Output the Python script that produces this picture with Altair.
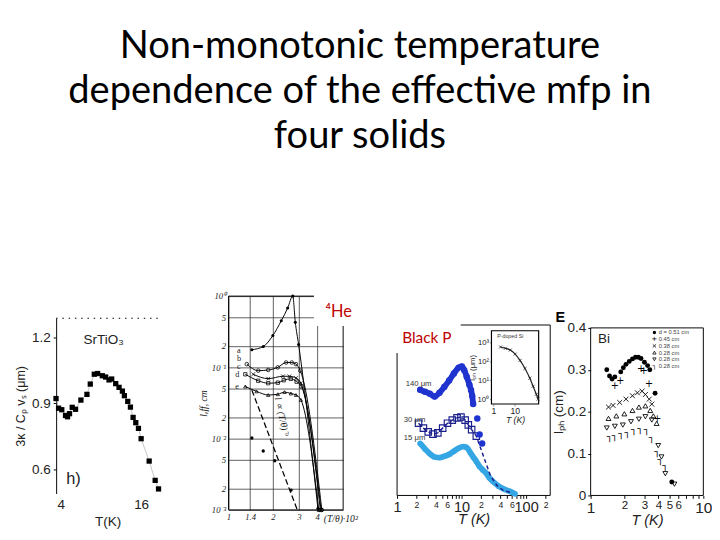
import altair as alt
import pandas as pd

# ---------------- title ----------------
TITLE = ["Non-monotonic temperature", "dependence of the effective mfp in", "four solids"]

# ---------------- panel 1 : SrTiO3 ----------------
sto_T = [3.28, 3.66, 4.14, 4.7, 5.0, 5.3, 5.7, 6.2, 7.0, 7.9, 8.4, 9.0, 9.5, 10.2, 10.7,
         11.2, 11.6, 12.2, 12.7, 13.2, 13.5, 14.0, 14.4, 14.8, 15.2, 15.6, 16.0, 17.2, 18.1, 18.6]
sto_L = [0.922, 0.878, 0.871, 0.845, 0.839, 0.853, 0.882, 0.873, 0.915, 0.941, 0.988, 1.033,
         1.036, 1.026, 1.020, 1.007, 1.011, 0.990, 0.973, 0.956, 0.935, 0.909, 0.883, 0.836,
         0.812, 0.786, 0.739, 0.637, 0.549, 0.510]
sto_xticks = [4, 8, 12, 16]
sto_yticks = [0.6, 0.9, 1.2]

# ---------------- panel 2 : 4He ----------------
he_a_x = [1.44, 1.72, 2.0, 2.28, 2.52, 2.73, 2.84, 2.99, 4.04]
he_a_y = [0.177, 0.196, 0.28, 0.45, 0.68, 1.0, 0.43, 0.21, 0.00105]
he_b_x = [1.33, 1.59, 1.86, 2.16, 2.46, 2.69, 2.87, 3.07, 4.3]
he_b_y = [0.111, 0.090, 0.092, 0.100, 0.117, 0.117, 0.111, 0.090, 0.001]
he_c_x = [1.47, 1.86, 2.34, 2.59, 2.87, 3.1, 4.25]
he_c_y = [0.080, 0.0695, 0.075, 0.075, 0.071, 0.060, 0.001]
he_d_x = [1.30, 1.59, 1.86, 2.16, 2.37, 2.65, 2.9, 3.13, 4.2]
he_d_y = [0.080, 0.065, 0.060, 0.061, 0.066, 0.069, 0.063, 0.054, 0.001]
he_e_x = [1.30, 1.55, 1.86, 2.16, 2.4, 2.65, 2.87, 3.1, 4.1]
he_e_y = [0.054, 0.046, 0.041, 0.042, 0.045, 0.043, 0.041, 0.035, 0.001]
he_dash_x = [1.44, 2.93]
he_dash_y = [0.048, 0.001]
he_dots_x = [1.44, 1.72, 2.06, 2.66]
he_dots_y = [0.0102, 0.0067, 0.0049, 0.0019]
he_xticks = [1, 1.4, 2, 3, 4]
he_yticks = [1, 0.5, 0.2, 0.1, 0.05, 0.02, 0.01, 0.005, 0.002, 0.001]
he_curve_names = ["a", "b", "c", "d", "e"]
he_label_x = [1.14, 1.14, 1.14, 1.11, 1.11]
he_label_y = [0.177, 0.136, 0.105, 0.080, 0.054]

# ---------------- panel 3 : black P ----------------
bp140_T = [2.28, 2.71, 3.22, 3.82, 4.54, 5.39, 6.4, 7.6, 9.0, 10.1, 11.0, 12.0, 13.2, 14.0,
           14.6, 15.1, 17.5, 19.0, 20.8]
bp140_L = [0.62, 0.608, 0.597, 0.58, 0.603, 0.637, 0.674, 0.716, 0.75, 0.757, 0.734, 0.697,
           0.65, 0.618, 0.584, 0.537, 0.452, 0.358, 0.305]
bp30_T = [2.15, 2.56, 3.04, 3.6, 4.28, 5.09, 6.04, 7.17, 8.5, 9.77, 11.35, 12.7, 14.3, 16.9,
          23.9, 28.2, 35.7, 45.0, 56.0]
bp30_L = [0.424, 0.395, 0.373, 0.36, 0.367, 0.395, 0.424, 0.442, 0.455, 0.46, 0.442, 0.414,
          0.386, 0.348, 0.188, 0.113, 0.056, 0.028, 0.019]
bp15_T = [2.28, 2.71, 3.22, 3.82, 4.54, 5.39, 6.4, 7.6, 9.0, 10.7, 12.0, 13.5, 15.1, 16.9,
          19.0, 21.3, 23.9, 26.8, 30.1, 37.9, 47.5, 59.7, 67.0]
bp15_L = [0.305, 0.273, 0.245, 0.226, 0.222, 0.23, 0.241, 0.26, 0.278, 0.286, 0.282, 0.254,
          0.226, 0.2, 0.17, 0.15, 0.132, 0.105, 0.085, 0.053, 0.034, 0.02, 0.01]
bp_xticks = [1, 2, 3, 4, 5, 6, 7, 8, 9, 10, 20, 30, 40, 50, 60, 70, 80, 90, 100, 200]
si_T = [2.15, 3.6, 6.1, 10.3, 17.4, 29.5, 49.8, 70.5, 100, 120]
si_L = [600, 510, 410, 250, 115, 43, 13, 4.8, 1.8, 1.0]

# ---------------- panel 4 : Bi ----------------
bi_labels = ["d = 0.51 cm", "0.45 cm", "0.38 cm", "0.28 cm", "0.28 cm", "0.28 cm"]
bi051_T = [1.39, 1.47, 1.55, 1.64, 1.85, 1.95, 2.06, 2.2, 2.35, 2.5, 2.65, 2.8, 3.0, 3.2, 3.35, 3.73, 5.25]
bi051_L = [0.300, 0.285, 0.278, 0.283, 0.295, 0.305, 0.313, 0.32, 0.326, 0.33, 0.33, 0.327,
           0.318, 0.31, 0.30, 0.244, 0.032]
bi045_T = [1.64, 1.83, 2.8, 2.96, 3.3, 3.9]
bi045_L = [0.262, 0.274, 0.301, 0.297, 0.265, 0.182]
bi038_T = [1.44, 1.58, 1.81, 2.06, 2.35, 2.6, 2.86, 3.06, 3.31, 3.49]
bi038_L = [0.211, 0.215, 0.222, 0.23, 0.238, 0.245, 0.249, 0.241, 0.23, 0.218]
bi028a_T = [1.44, 1.69, 1.99, 2.35, 2.68, 3.06, 3.38, 3.6, 3.85]
bi028a_L = [0.184, 0.19, 0.195, 0.203, 0.211, 0.214, 0.203, 0.19, 0.172]
bi028b_T = [1.39, 1.64, 1.93, 2.28, 2.68, 3.06, 3.49, 3.98, 4.25, 4.6, 5.54]
bi028b_L = [0.161, 0.165, 0.168, 0.176, 0.182, 0.188, 0.18, 0.119, 0.092, 0.052, 0.027]
bi028c_T = [1.48, 1.64, 1.87, 2.13, 2.43, 2.77, 3.16, 3.49, 3.92, 4.19, 4.6]
bi028c_L = [0.14, 0.142, 0.146, 0.149, 0.157, 0.159, 0.155, 0.138, 0.103, 0.084, 0.069]
bi_xticks = [1, 2, 3, 4, 5, 6, 7, 8, 9, 10]
bi_yticks = [0, 0.1, 0.2, 0.3, 0.4]
# legend rows (inside the Bi frame, top right)
bi_leg_T = 3.68
bi_leg_text_T = 4.02
bi_leg_L = [0.389, 0.373, 0.357, 0.341, 0.325, 0.309]

SANS = "Liberation Sans"
SERIF = "Liberation Serif"
one = pd.DataFrame({"k": [0]})

CROSS = "M-1,-1L1,1M-1,1L1,-1"


def spacer(w, h):
    return alt.Chart(one).mark_point(size=0, opacity=0).encode(
        x=alt.value(0), y=alt.value(0)).properties(width=w, height=h)


def place(panel, dx, dy):
    row = alt.hconcat(spacer(dx, 1), panel, spacing=0) if dx > 0 else panel
    if dy > 0:
        return alt.vconcat(spacer(1, dy), row, spacing=0)
    return row


# ================= panel 1 =================
p1_df = pd.DataFrame({"T": sto_T, "L": sto_L})
X1 = alt.X("T:Q", scale=alt.Scale(domain=[3.3, 18.7], nice=False, zero=False),
           axis=alt.Axis(values=sto_xticks, title="T(K)", grid=False, domain=False, ticks=False,
                         labelOverlap=False, labelFlush=False,
                         labelFont=SANS, labelFontSize=14, titleFont=SANS, titleFontSize=14,
                         titleFontWeight="normal", labelPadding=5, titlePadding=3,
                         labelColor="#222", titleColor="#222"))
Y1 = alt.Y("L:Q", scale=alt.Scale(domain=[0.489, 1.288], nice=False, zero=False),
           axis=alt.Axis(values=sto_yticks, format=".1f", title="3κ / Cₚ vₛ (μm)", grid=False,
                         domain=True, domainColor="black", ticks=True, tickSize=3, tickColor="black",
                         labelOverlap=False, labelFlush=False,
                         labelFont=SANS, labelFontSize=14, titleFont=SANS, titleFontSize=13,
                         titleFontWeight="normal", labelPadding=3, titlePadding=4,
                         labelColor="#222", titleColor="#222"))
p1_base = alt.Chart(p1_df).encode(x=X1, y=Y1)
p1 = alt.layer(
    alt.Chart(one).mark_rule(color="black", strokeDash=[1.5, 5], strokeWidth=1.2).encode(
        x=alt.datum(3.3), x2=alt.datum(18.7), y=alt.datum(1.288)),
    p1_base.mark_line(color="#999", strokeWidth=0.6),
    p1_base.mark_square(size=30, color="black", opacity=1),
    alt.Chart(one).mark_text(text="SrTiO₃", font=SANS, fontSize=14, color="#222").encode(
        x=alt.datum(10.4), y=alt.datum(1.19)),
    alt.Chart(one).mark_text(text="h)", font=SANS, fontSize=17, color="#222", align="left").encode(
        x=alt.datum(4.8), y=alt.datum(0.556)),
).properties(width=107, height=182)

# ================= panel 2 =================
he_series = list(zip(he_curve_names, [he_a_x, he_b_x, he_c_x, he_d_x, he_e_x],
                     [he_a_y, he_b_y, he_c_y, he_d_y, he_e_y]))
he_rows = []
for name, xs, ys in he_series:
    for xv, yv in zip(xs, ys):
        he_rows.append({"x": xv, "y": yv, "curve": name})
he_df = pd.DataFrame(he_rows)
he_dash = pd.DataFrame({"x": he_dash_x, "y": he_dash_y})
he_dots = pd.DataFrame({"x": he_dots_x, "y": he_dots_y})
he_lab = pd.DataFrame({"x": he_label_x, "y": he_label_y, "t": he_curve_names})

y_lab_expr = ("datum.value >= 0.99 ? '10⁰' : abs(datum.value - 0.1) < 1e-9 ? '10⁻¹' : "
              "abs(datum.value - 0.01) < 1e-10 ? '10⁻²' : abs(datum.value - 0.001) < 1e-11 ? '10⁻³' : "
              "format(datum.value / pow(10, floor(log(datum.value) / LN10 + 1e-9)), '.0f')")
X2 = alt.X("x:Q", scale=alt.Scale(type="log", domain=[1, 6], nice=False),
           axis=alt.Axis(values=he_xticks, format="~g", grid=True, gridColor="#333", gridWidth=0.8,
                         labelOverlap=False, labelFlush=False,
                         domain=False, ticks=False, labelFont=SERIF, labelFontStyle="italic",
                         labelFontSize=9, labelPadding=3, title="(T/θ)·10²", titleFont=SERIF,
                         titleFontStyle="italic", titleFontWeight="normal", titleFontSize=10,
                         titleX=116, titleY=12, titleAlign="center", titleBaseline="alphabetic",
                         labelColor="#222", titleColor="#222"))
Y2 = alt.Y("y:Q", scale=alt.Scale(type="log", domain=[0.001, 1], nice=False),
           axis=alt.Axis(values=he_yticks, labelExpr=y_lab_expr, grid=True, gridColor="#333",
                         labelOverlap=False, labelFlush=False,
                         gridWidth=0.8, domain=False, ticks=False, labelFont=SERIF,
                         labelFontStyle="italic", labelFontSize=9, labelPadding=3,
                         title="lₑff, cm", titleFont=SERIF, titleFontStyle="italic",
                         titleFontWeight="normal", titleFontSize=10, titlePadding=3,
                         labelColor="#222", titleColor="#222"))
he_marker_style = {
    "a": dict(shape="circle", filled=True, size=10),
    "b": dict(shape="circle", filled=False, size=14),
    "c": dict(shape=CROSS, filled=False, size=14),
    "d": dict(shape="square", filled=False, size=12),
    "e": dict(shape="triangle-up", filled=False, size=12),
}
he_marker_layers = [
    alt.Chart(pd.DataFrame({"x": xs, "y": ys})).mark_point(
        color="black", strokeWidth=0.8, opacity=1, **he_marker_style[name]).encode(x=X2, y=Y2)
    for name, xs, ys in he_series
]
p2 = alt.layer(
    alt.Chart(one).mark_rect(fillOpacity=0, stroke="black", strokeWidth=1).encode(
        x=alt.datum(1), x2=alt.datum(6), y=alt.datum(0.001), y2=alt.datum(1)),
    alt.Chart(one).mark_rect(fill="white").encode(
        x=alt.datum(3.8), x2=alt.datum(6.3), y=alt.datum(0.38), y2=alt.datum(1.1)),
    alt.Chart(he_df).mark_line(color="black", strokeWidth=1, interpolate="monotone").encode(
        x=X2, y=Y2, detail="curve:N"),
    *he_marker_layers,
    alt.Chart(he_dash).mark_line(color="black", strokeWidth=1.3, strokeDash=[6, 3]).encode(x=X2, y=Y2),
    alt.Chart(he_dots).mark_circle(size=12, color="black", opacity=1).encode(x=X2, y=Y2),
    alt.Chart(he_lab).mark_text(font=SERIF, fontSize=8.5, align="left", color="#222").encode(
        x=X2, y=Y2, text="t:N"),
    alt.Chart(one).mark_text(text="l ∝ (T/θ)⁻ᵅ", font=SERIF, fontStyle="italic", fontSize=10,
                             angle=78, color="#222").encode(x=alt.datum(2.3), y=alt.datum(0.02)),
    alt.Chart(one).mark_text(text="⁴He", font="Lato", fontSize=17, color="#c00000",
                             align="left").encode(x=alt.datum(4.55), y=alt.datum(0.6)),
).properties(width=119, height=222)

# ================= panel 3 =================
bp140 = pd.DataFrame({"x": bp140_T, "y": bp140_L})
bp30 = pd.DataFrame({"x": bp30_T, "y": bp30_L})
bp30_sq = bp30[bp30["x"] < 18]
bp15 = pd.DataFrame({"x": bp15_T, "y": bp15_L})
si = pd.DataFrame({"ix": si_T, "iy": si_L})

bp_lab_expr = ("indexof([1,2,4,6,10,20,40,60,100,200], datum.value) >= 0 ? "
               "(datum.value >= 20 && datum.value < 100 ? format(datum.value / 10, 'd') : "
               "datum.value == 200 ? '2' : format(datum.value, 'd')) : ''")
X3 = alt.X("x:Q", scale=alt.Scale(type="log", domain=[1, 236], nice=False),
           axis=alt.Axis(values=bp_xticks, labelExpr=bp_lab_expr, grid=False, domain=False,
                         ticks=True, tickSize=3, tickColor="black",
                         labelOverlap=False, labelFlush=False,
                         labelFontSize={"condition": {"test": "datum.value == 1 || datum.value == 10 || datum.value == 100",
                                                      "value": 15}, "value": 9},
                         labelFont=SANS, labelPadding=2, title="T (K)", titleFont=SANS,
                         titleFontStyle="italic", titleFontWeight="normal", titleFontSize=15,
                         titlePadding=-3, labelColor="#222", titleColor="#222"))
Y3 = alt.Y("y:Q", scale=alt.Scale(domain=[0, 1], nice=False),
           axis=alt.Axis(labels=False, ticks=False, domain=False, grid=False, title=None))
C140 = "#1f33cf"
C30 = "#1a1f8c"
C15 = "#35a6e4"
main3 = alt.layer(
    alt.Chart(one).mark_rect(fillOpacity=0, stroke="black", strokeWidth=1).encode(
        x=alt.datum(1), x2=alt.datum(236), y=alt.datum(0), y2=alt.datum(1)),
    alt.Chart(one).mark_rect(fill="white").encode(
        x=alt.datum(0.95), x2=alt.datum(9.7), y=alt.datum(0.836), y2=alt.datum(1.03)),
    alt.Chart(bp15).mark_line(color=C15, strokeWidth=6, strokeCap="round", interpolate="monotone").encode(x=X3, y=Y3),
    alt.Chart(bp15).mark_point(shape="triangle-up", filled=True, size=30, color=C15, opacity=1).encode(x=X3, y=Y3),
    alt.Chart(bp30).mark_line(color=C30, strokeWidth=1.5, strokeDash=[4, 3]).encode(x=X3, y=Y3),
    alt.Chart(bp30_sq).mark_point(shape="square", size=45, color=C30, strokeWidth=1.2, opacity=1).encode(x=X3, y=Y3),
    alt.Chart(bp140[bp140["x"] < 16]).mark_line(color=C140, strokeWidth=6, strokeCap="round", interpolate="monotone").encode(x=X3, y=Y3),
    alt.Chart(bp140).mark_circle(size=45, color=C140, opacity=1).encode(x=X3, y=Y3),
    alt.Chart(one).mark_text(text="140 μm", font=SANS, fontSize=8, align="left", color="#333").encode(
        x=alt.datum(1.36), y=alt.datum(0.655)),
    alt.Chart(one).mark_text(text="30 μm", font=SANS, fontSize=8, align="left", color="#333").encode(
        x=alt.datum(1.27), y=alt.datum(0.445)),
    alt.Chart(one).mark_text(text="15 μm", font=SANS, fontSize=8, align="left", color="#333").encode(
        x=alt.datum(1.27), y=alt.datum(0.338)),
    alt.Chart(one).mark_text(text="Black P", font="Lato", fontSize=16, align="left", color="#c00000").encode(
        x=alt.datum(1.2), y=alt.datum(0.92)),
)
IX = alt.X("ix:Q", scale=alt.Scale(type="log", domain=[0.81, 128], range=[98, 147], nice=False),
           axis=alt.Axis(orient="bottom", offset=-95, values=[1, 10], format="d", grid=False,
                         labelOverlap=False, labelFlush=False,
                         domain=False, ticks=True, tickSize=2, labelFont=SANS, labelFontSize=9,
                         labelPadding=1, title="T (K)", titleFont=SANS, titleFontStyle="italic",
                         titleFontWeight="normal", titleFontSize=9, titlePadding=0,
                         labelColor="#222", titleColor="#222"))
IY = alt.Y("iy:Q", scale=alt.Scale(type="log", domain=[0.55, 4365], range=[82, 6], nice=False),
           axis=alt.Axis(orient="left", offset=-98, values=[1, 10, 100, 1000],
                         labelExpr="datum.value == 1 ? '10⁰' : datum.value == 10 ? '10¹' : datum.value == 100 ? '10²' : '10³'",
                         labelOverlap=False, labelFlush=False,
                         grid=False, domain=False, ticks=True, tickSize=2, labelFont=SANS,
                         labelFontSize=8, labelPadding=1, title="lₚₕ (μm)", titleFont=SANS,
                         titleFontWeight="normal", titleFontSize=8, titlePadding=1,
                         labelColor="#222", titleColor="#222"))
inset3 = alt.layer(
    alt.Chart(one).mark_rect(fill="white", stroke="black", strokeWidth=1.2).encode(
        x=alt.datum(0.81), x2=alt.datum(128), y=alt.datum(0.55), y2=alt.datum(4365)),
    alt.Chart(si).mark_line(color="#222", strokeWidth=1.2, interpolate="monotone").encode(x=IX, y=IY),
    alt.Chart(si).mark_point(shape=CROSS, size=10, color="#222", strokeWidth=0.8, opacity=1).encode(x=IX, y=IY),
    alt.Chart(one).mark_text(text="P-doped Si", font=SANS, fontSize=5.5, align="left", color="#333").encode(
        x=alt.datum(1.5), y=alt.datum(2400)),
)
p3 = alt.layer(main3, inset3).resolve_scale(x="independent", y="independent").properties(
    width=159, height=177)

# ================= panel 4 =================
X4 = alt.X("T:Q", scale=alt.Scale(type="log", domain=[1, 10], nice=False),
           axis=alt.Axis(values=bi_xticks, labelExpr="datum.value <= 6 || datum.value == 10 ? format(datum.value, 'd') : ''",
                         grid=False, domain=False, ticks=True, tickSize=3, tickColor="black",
                         labelOverlap=False, labelFlush=False,
                         labelFont=SANS,
                         labelFontSize={"condition": {"test": "datum.value == 1 || datum.value == 10", "value": 16},
                                        "value": 12},
                         labelPadding=2, title="T (K)", titleFont=SANS, titleFontStyle="italic",
                         titleFontWeight="normal", titleFontSize=15, titlePadding=-3,
                         labelColor="#222", titleColor="#222"))
Y4 = alt.Y("L:Q", scale=alt.Scale(domain=[0, 0.4], nice=False),
           axis=alt.Axis(values=bi_yticks, labelExpr="datum.value == 0 ? '0' : format(datum.value, '.1f')",
                         grid=False, domain=False, ticks=True, tickSize=3, tickColor="black",
                         labelOverlap=False, labelFlush=False,
                         labelFont=SANS, labelFontSize=14, labelPadding=2, title="lₚₕ (cm)",
                         titleFont=SANS, titleFontWeight="normal", titleFontSize=14, titlePadding=2,
                         labelColor="#222", titleColor="#222"))

# (series x, series y, marker kind, marker spec)
bi_series = [
    (bi051_T, bi051_L, "point", dict(shape="circle", filled=True)),
    (bi045_T, bi045_L, "glyph", "+"),
    (bi038_T, bi038_L, "point", dict(shape=CROSS, filled=False)),
    (bi028a_T, bi028a_L, "point", dict(shape="triangle-up", filled=False)),
    (bi028b_T, bi028b_L, "point", dict(shape="triangle-down", filled=False)),
    (bi028c_T, bi028c_L, "glyph", "┐"),
]
bi_layers = []
for i, (xs, ys, kind, spec) in enumerate(bi_series):
    df = pd.DataFrame({"T": xs, "L": ys})
    leg = pd.DataFrame({"T": [bi_leg_T], "L": [bi_leg_L[i]]})
    if kind == "point":
        bi_layers.append(alt.Chart(df).mark_point(color="black", size=26, strokeWidth=0.9,
                                                  opacity=1, **spec).encode(x=X4, y=Y4))
        bi_layers.append(alt.Chart(leg).mark_point(color="black", size=12, strokeWidth=0.8,
                                                   opacity=1, **spec).encode(x=X4, y=Y4))
    else:
        bi_layers.append(alt.Chart(df).mark_text(text=spec, font="DejaVu Sans", fontSize=10,
                                                 color="black", baseline="middle").encode(x=X4, y=Y4))
        bi_layers.append(alt.Chart(leg).mark_text(text=spec, font="DejaVu Sans", fontSize=7,
                                                  color="black", baseline="middle").encode(x=X4, y=Y4))
bi_leg_txt = pd.DataFrame({"T": [bi_leg_text_T] * len(bi_labels), "L": bi_leg_L, "d": bi_labels})

p4 = alt.layer(
    alt.Chart(one).mark_rect(fillOpacity=0, stroke="black", strokeWidth=1).encode(
        x=alt.datum(1), x2=alt.datum(10), y=alt.datum(0), y2=alt.datum(0.4)),
    *bi_layers,
    alt.Chart(bi_leg_txt).mark_text(font=SANS, fontSize=6, align="left", color="#444").encode(
        x=X4, y=Y4, text="d:N"),
    alt.Chart(one).mark_text(text="Bi", font=SANS, fontSize=14, align="left", color="#222").encode(
        x=alt.datum(1.16), y=alt.datum(0.372)),
).properties(width=117, height=174,
             title=alt.TitleParams("E", anchor="start", frame="bounds", fontSize=15,
                                   fontWeight="bold", font=SANS, offset=-4, dx=4, color="black"))

chart = alt.hconcat(
    place(p1, 7, 22),
    place(p2, 38, 0),
    place(p3, 36, 24),
    place(p4, 0, 15),
    spacing=0,
).properties(
    title=alt.TitleParams(TITLE, fontSize=39.5, font="Lato", fontWeight="normal", lineHeight=47,
                          anchor="middle", offset=141, color="black"),
    padding={"left": 0, "top": 9, "right": 0, "bottom": 0},
    background="white",
).configure_view(stroke="transparent", strokeWidth=0)

chart.save("out.html", embed_options={"renderer": "svg", "actions": False})
